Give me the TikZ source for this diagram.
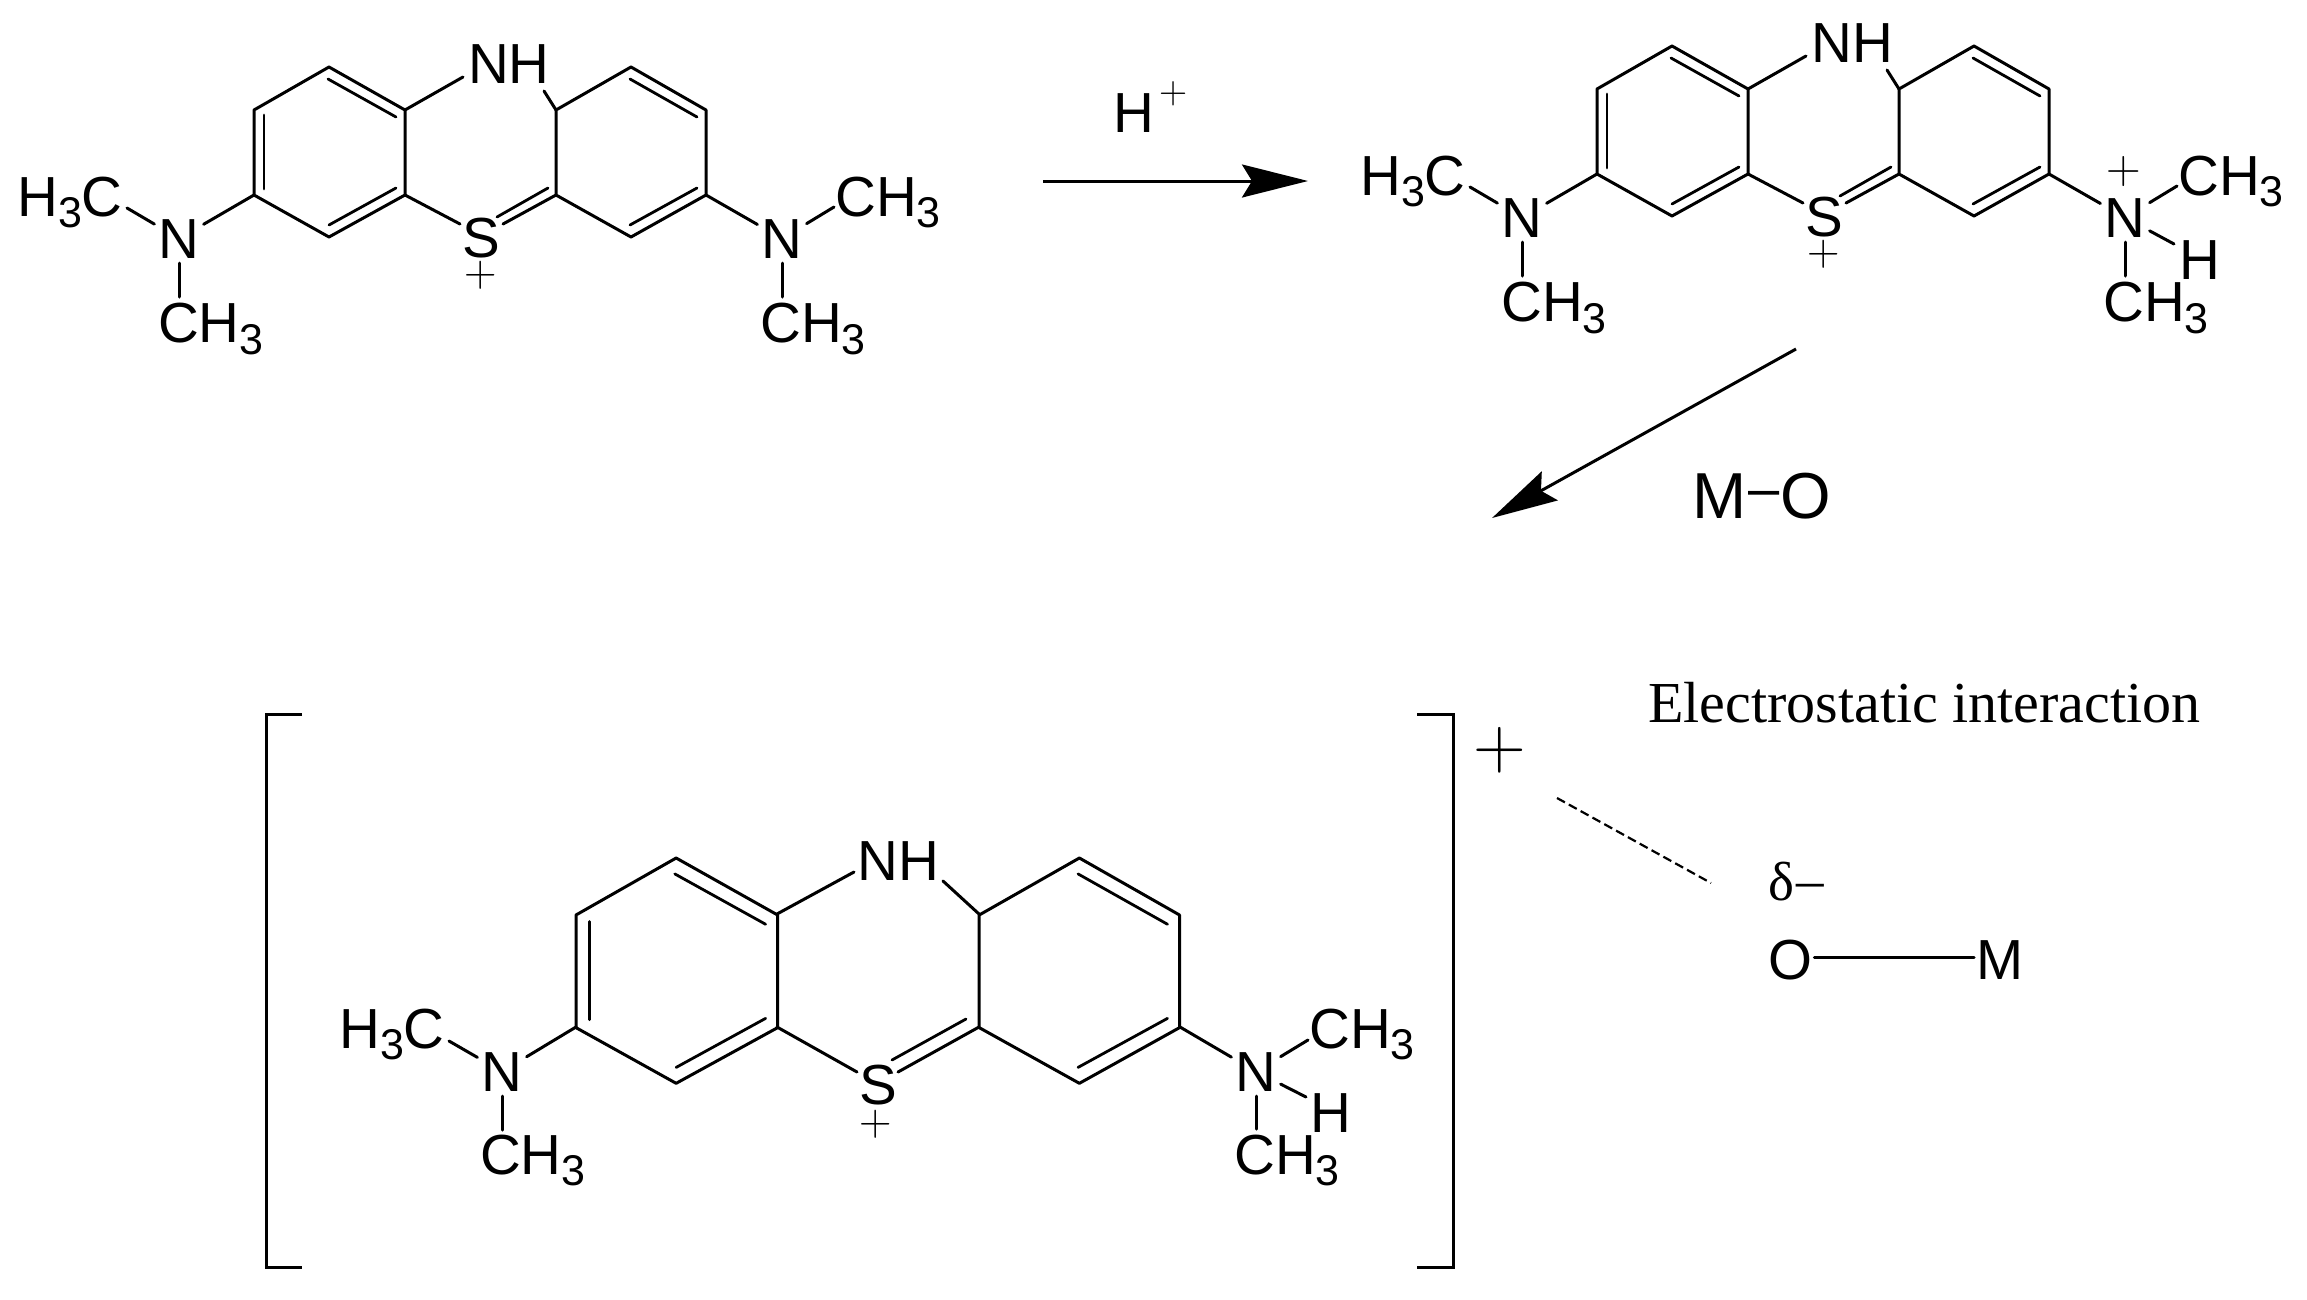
\documentclass[tikz,border=0pt]{standalone}
\usepackage{fontspec}
\setmainfont{Liberation Sans}
\newfontfamily\tnr{Liberation Serif}
\usetikzlibrary{arrows.meta,calc}
\newcommand\lblfont{\fontsize{56.5}{60}\selectfont}
\newcommand\thinplus[1]{\fontsize{#1}{#1}\usefont{TU}{lmr}{m}{n}}
\newcommand\subthree{\raisebox{-11.5pt}{\fontsize{43}{43}\selectfont 3}}
\newcommand\CHthree{CH\subthree}
\newcommand\HthreeC{H\subthree C}
\tikzset{
  bond/.style={line width=3pt,line cap=round,line join=round,black},
  thinbond/.style={line width=2.8pt,line cap=round,black},
  reaction/.style={line width=3pt,black,-{Stealth[length=66pt,width=33pt,inset=10pt]}},
  atom/.style={font=\lblfont,inner xsep=4pt,inner ysep=5pt,anchor=base},
  chemtext/.style={font=\lblfont,inner sep=0pt,anchor=base west},
  chargeS/.style={font=\thinplus{45},inner sep=0pt,anchor=center},
}
% ring skeleton in local units
\newcommand\RingCore{%
  \coordinate (a) at (0,43); \coordinate (b) at (75,0); \coordinate (c) at (151,43);
  \coordinate (d) at (151,128); \coordinate (e) at (75,170); \coordinate (f) at (0,128);
  \coordinate (g) at (302,43); \coordinate (h) at (377,0); \coordinate (i) at (452,43);
  \coordinate (j) at (452,128); \coordinate (k) at (377,170); \coordinate (l) at (302,128);
  \draw[bond] (a) -- (b) -- (c) -- (d) -- (e) -- (f) -- cycle;
  \draw[bond] (g) -- (h) -- (i) -- (j) -- (k) -- (l) -- cycle;
  \coordinate (p1) at (10,48); \coordinate (p2) at (10,122);
  \coordinate (p3) at (74,12); \coordinate (p4) at (142,50);
  \coordinate (p5) at (75,158); \coordinate (p6) at (142,121);
  \coordinate (p7) at (376,12); \coordinate (p8) at (443,50);
  \coordinate (p9) at (376,158); \coordinate (p10) at (443,121);
  \draw[thinbond] (p1) -- (p2);
  \draw[thinbond] (p3) -- (p4);
  \draw[thinbond] (p5) -- (p6);
  \draw[thinbond] (p7) -- (p8);
  \draw[thinbond] (p9) -- (p10);
}
% labels shared by the two upper molecules, in the frame of the first
\newcommand\UpperLabels{%
  \begin{scope}[shift={(254,67)}]\RingCore\end{scope}
  \node[chemtext] (NH) at (468,83) {NH};
  \node[atom] (S) at (481,257.5) {S};
  \node[chargeS] (Splus) at (481,275) {+};
  \node[atom] (NL) at (179,258) {N};
  \node[chemtext] (CL1) at (17,216) {\HthreeC};
  \node[chemtext] (CL2) at (158,342.5) {\CHthree};
  \node[atom] (NR) at (782,258) {N};
  \node[chemtext] (CR1) at (835,216) {\CHthree};
  \node[chemtext] (CR2) at (760,342.5) {\CHthree};
  \coordinate (nh1) at (463,77); \coordinate (nh2) at (544,91);
  \coordinate (s1) at (460,224); \coordinate (s2) at (503,224);
  \coordinate (s3) at (548,188); \coordinate (s4) at (497,217);
  \coordinate (nl1) at (127,208); \coordinate (nl2) at (179,297);
  \coordinate (nr1) at (834,207); \coordinate (nr2) at (782,297);
  \coordinate (sa) at (405,110); \coordinate (sb) at (556,110);
  \coordinate (sc) at (405,195); \coordinate (sd) at (556,195);
  \coordinate (se) at (254,195); \coordinate (sf) at (706,195);
  \draw[bond] (sa) -- (nh1);
  \draw[bond] (sb) -- (nh2);
  \draw[bond] (sc) -- (s1);
  \draw[bond] (sd) -- (s2);
  \draw[thinbond] (s3) -- (s4);
  \draw[bond] (se) -- (NL);
  \draw[bond] (NL) -- (nl1);
  \draw[bond] (NL.south) -- (NL.south |- nl2);
  \draw[bond] (sf) -- (NR);
  \draw[bond] (NR) -- (nr1);
  \draw[bond] (NR.south) -- (NR.south |- nr2);
}
\begin{document}
\begin{tikzpicture}[x=1pt,y=-1pt]
\useasboundingbox (0,0) rectangle (2307,1299);
\fill[white] (0,0) rectangle (2307,1299);

% molecule 1
\begin{scope}[name prefix=m1-]
  \UpperLabels
\end{scope}

% molecule 2
\begin{scope}[shift={(1343,-21)},name prefix=m2-]
  \UpperLabels
\end{scope}
\node[chargeS,font=\thinplus{48}] (m2-Nplus) at (2124,172) {+};
\node[atom] (m2-H) at (2199.5,279) {H};
\coordinate (m2-h1) at (2174,244);
\draw[bond] (m2-NR) -- (m2-h1);

% reaction 1
\node[chemtext] (hplusH) at (1113,132) {H};
\node[chargeS,font=\thinplus{39}] (hplusP) at (1174,94) {+};
\coordinate (r1s) at (1043,181);
\coordinate (r1e) at (1308,181);
\draw[reaction] (r1s) -- (r1e);

% reaction 2
\coordinate (r2s) at (1796,349);
\coordinate (r2e) at (1492,518);
\draw[reaction] (r2s) -- (r2e);
\node[chemtext,font=\fontsize{65}{65}\selectfont] (moM) at (1692,518) {M};
\node[chemtext,font=\fontsize{56}{56}\selectfont] (moD) at (1748,507) {–};
\node[chemtext,font=\fontsize{65}{65}\selectfont] (moO) at (1780,518) {O};

% molecule 3
\begin{scope}[shift={(576,858)},xscale=1.335,yscale=1.325,name prefix=m3-]
  \RingCore
\end{scope}
\begin{scope}[name prefix=m3-]
  \node[chemtext] (NH) at (857,880) {NH};
  \node[atom] (S) at (878,1104.5) {S};
  \node[chargeS] (Splus) at (876,1124) {+};
  \node[atom] (NL) at (502,1091) {N};
  \node[chemtext] (CL1) at (339,1048) {\HthreeC};
  \node[chemtext] (CL2) at (480,1174) {\CHthree};
  \node[atom] (NR) at (1256,1091) {N};
  \node[chemtext] (CR1) at (1309,1048) {\CHthree};
  \node[chemtext] (CR2) at (1234,1174) {\CHthree};
  \node[atom] (H) at (1330.5,1132) {H};
  \coordinate (nh1) at (854,872); \coordinate (nh2) at (943,881);
  \coordinate (s1) at (857,1072); \coordinate (s2) at (898,1072);
  \coordinate (s3) at (966,1019); \coordinate (s4) at (892,1060);
  \coordinate (nl1) at (449,1041); \coordinate (nl2) at (502,1130);
  \coordinate (nr1) at (1308,1040); \coordinate (nr2) at (1256,1129);
  \coordinate (h1) at (1306,1097);
  \coordinate (sa) at (777,914); \coordinate (sb) at (979,914);
  \coordinate (sc) at (777,1027); \coordinate (sd) at (979,1027);
  \coordinate (se) at (576,1027); \coordinate (sf) at (1180,1027);
  \draw[bond] (sa) -- (nh1);
  \draw[bond] (sb) -- (nh2);
  \draw[bond] (sc) -- (s1);
  \draw[bond] (sd) -- (s2);
  \draw[thinbond] (s3) -- (s4);
  \draw[bond] (se) -- (NL);
  \draw[bond] (NL) -- (nl1);
  \draw[bond] (NL.south) -- (NL.south |- nl2);
  \draw[bond] (sf) -- (NR);
  \draw[bond] (NR) -- (nr1);
  \draw[bond] (NR.south) -- (NR.south |- nr2);
  \draw[bond] (NR) -- (h1);
\end{scope}

% brackets
\coordinate (bl1) at (302,714); \coordinate (bl2) at (266,714);
\coordinate (bl3) at (266,1267); \coordinate (bl4) at (302,1267);
\coordinate (br1) at (1417,714); \coordinate (br2) at (1453,714);
\coordinate (br3) at (1453,1267); \coordinate (br4) at (1417,1267);
\draw[line width=3pt,black] (bl1) -- (bl2) -- (bl3) -- (bl4);
\draw[line width=3pt,black] (br1) -- (br2) -- (br3) -- (br4);
\node[chargeS,font=\thinplus{73}] (bigplus) at (1500,750) {+};

% electrostatic part
\node[chemtext,font=\tnr\fontsize{58}{60}\selectfont] (elec) at (1648,722) {Electrostatic interaction};
\coordinate (d1) at (1557,798);
\coordinate (d2) at (1711,883);
\draw[line width=2.2pt,black,dash pattern=on 9pt off 4.5pt] (d1) -- (d2);
\node[chemtext,font=\tnr\fontsize{55}{55}\selectfont] (delta) at (1768,900) {δ};
\node[chemtext,font=\tnr\fontsize{55}{55}\selectfont] (deltam) at (1796,898) {–};
\node[atom,anchor=base west,inner xsep=2pt] (O) at (1766,979) {O};
\node[atom,anchor=base west,inner xsep=2pt] (M) at (1974,979) {M};
\draw[bond] (O.east |- 0,957) -- (M.west |- 0,957);
\end{tikzpicture}
\end{document}
